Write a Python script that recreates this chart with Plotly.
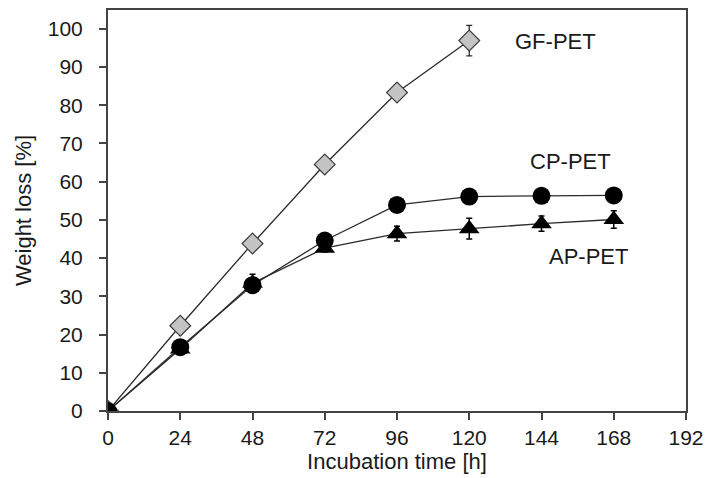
import plotly.graph_objects as go

# Incubation time points (h)
time_gf = [0, 24, 48, 72, 96, 120]
time_cp = [0, 24, 48, 72, 96, 120, 144, 168]
time_ap = [0, 24, 48, 72, 96, 120, 144, 168]

# Weight loss (%) and standard deviations
loss_gf = [0, 22.3, 43.8, 64.5, 83.3, 96.9]
err_gf = [0, 0.8, 0.8, 1.0, 0.8, 4.0]
loss_cp = [0, 16.7, 32.9, 44.6, 53.9, 56.1, 56.3, 56.4]
err_cp = [0, 0.5, 0.5, 0.5, 0.5, 0.5, 0.5, 0.5]
loss_ap = [0, 16.2, 33.4, 42.6, 46.4, 47.7, 49.0, 50.1]
err_ap = [0, 0.8, 2.4, 1.0, 1.9, 2.7, 2.0, 2.3]

x_ticks = [0, 24, 48, 72, 96, 120, 144, 168, 192]
y_ticks = [0, 10, 20, 30, 40, 50, 60, 70, 80, 90, 100]

series_labels = ["GF-PET", "CP-PET", "AP-PET"]
label_pos = [(148.8, 96.6), (153.5, 65.3), (159.5, 40.3)]

font = "Liberation Sans, Arial, sans-serif"
line_col = "#2b2b2b"

fig = go.Figure()

fig.add_trace(go.Scatter(
    x=time_gf, y=loss_gf, mode="lines+markers",
    line=dict(color=line_col, width=1.3),
    marker=dict(symbol="diamond", size=16, color="#c4c4c4",
                line=dict(color="#3a3a3a", width=1.2)),
    error_y=dict(type="data", array=err_gf, color=line_col, thickness=1.3, width=3),
    showlegend=False,
))
fig.add_trace(go.Scatter(
    x=time_ap, y=loss_ap, mode="lines+markers",
    line=dict(color=line_col, width=1.3),
    marker=dict(symbol="triangle-up", size=18, color="#000000",
                line=dict(color="#000000", width=0)),
    error_y=dict(type="data", array=err_ap, color="#000000", thickness=1.5, width=3),
    showlegend=False,
))
fig.add_trace(go.Scatter(
    x=time_cp, y=loss_cp, mode="lines+markers",
    line=dict(color=line_col, width=1.3),
    marker=dict(symbol="circle", size=18, color="#000000",
                line=dict(color="#000000", width=0)),
    error_y=dict(type="data", array=err_cp, color="#000000", thickness=1.5, width=3),
    showlegend=False,
))

for text, (lx, ly) in zip(series_labels, label_pos):
    fig.add_annotation(x=lx, y=ly, text=text, showarrow=False,
                       font=dict(family=font, size=22, color="#1a1a1a"),
                       xanchor="center", yanchor="middle")

fig.update_layout(
    width=712, height=478,
    margin=dict(l=108, r=22, t=8, b=67),
    paper_bgcolor="white", plot_bgcolor="white",
    font=dict(family=font, color="#1a1a1a"),
)
fig.update_xaxes(
    range=[0, 192], tickvals=x_ticks, ticktext=[str(v) for v in x_ticks],
    ticks="outside", ticklen=7, tickwidth=1.5, tickcolor="#444",
    showline=True, linecolor="#444", linewidth=2, mirror=True,
    showgrid=False, zeroline=False,
    tickfont=dict(size=21, family=font),
    title=dict(text="Incubation time [h]", font=dict(size=22, family=font), standoff=2),
)
fig.update_yaxes(
    range=[0, 104.9], tickvals=y_ticks, ticktext=[str(v) for v in y_ticks],
    ticks="outside", ticklen=7, tickwidth=1.5, tickcolor="#444",
    showline=True, linecolor="#444", linewidth=2, mirror=True,
    showgrid=False, zeroline=False, ticklabelstandoff=12,
    tickfont=dict(size=21, family=font),
    title=dict(text="Weight loss [%]", font=dict(size=22, family=font), standoff=10),
)

fig.write_html("out.html")
